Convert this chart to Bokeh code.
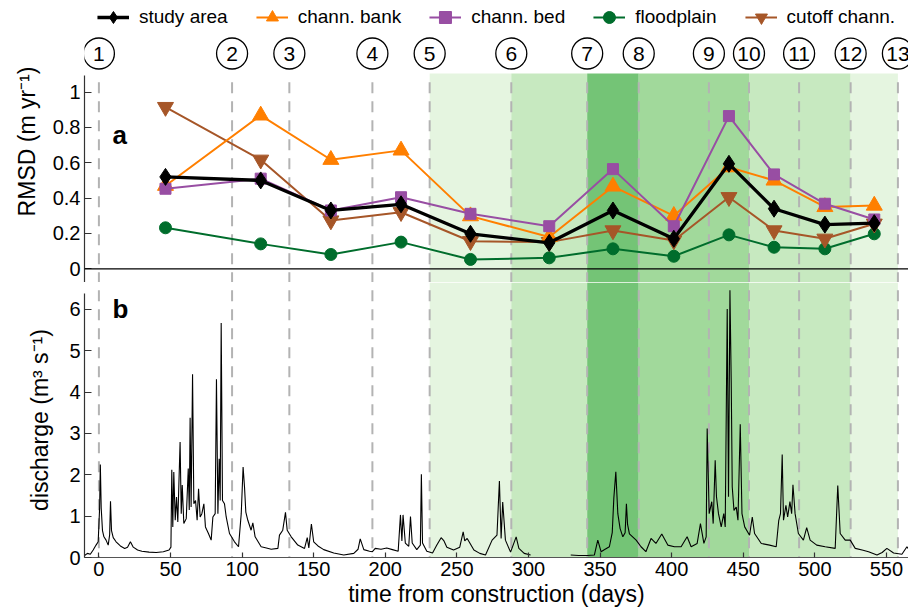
from bokeh.plotting import figure
from bokeh.models import Range1d, FixedTicker, Span, Label, Legend, LegendItem
from bokeh.layouts import column
from bokeh.embed import file_html
from bokeh.resources import INLINE
from bokeh.core.properties import value

FONT = "Liberation Sans"

# ---------------- data ----------------
event_days = [0, 93, 133, 191, 231, 288, 341, 377, 426, 454, 489, 525, 558]
event_labels = ["1", "2", "3", "4", "5", "6", "7", "8", "9", "10", "11", "12", "13"]

interval_mid = [46.5, 113, 162, 211, 259.5, 314.5, 359, 401.5, 440, 471.5, 507, 541.5]
study_area = [0.52, 0.50, 0.33, 0.365, 0.198, 0.147, 0.33, 0.17, 0.594, 0.34, 0.25, 0.258]
chann_bank = [0.47, 0.868, 0.617, 0.67, 0.298, 0.18, 0.466, 0.30, 0.575, 0.50, 0.35, 0.358]
chann_bed = [0.453, 0.51, 0.33, 0.405, 0.311, 0.241, 0.564, 0.241, 0.864, 0.534, 0.368, 0.279]
floodplain = [0.232, 0.141, 0.081, 0.151, 0.053, 0.062, 0.113, 0.071, 0.192, 0.122, 0.113, 0.198]
cutoff_chann = [0.915, 0.617, 0.273, 0.32, 0.156, 0.151, 0.217, 0.16, 0.405, 0.217, 0.17, 0.255]

shade_start = [231, 288, 341, 377, 454, 525]
shade_end = [288, 341, 377, 454, 525, 558]
shade_colors = ["#e5f5e0", "#c7e9c0", "#74c476", "#a1d99b", "#c7e9c0", "#e5f5e0"]

rmsd_ticks = [0, 0.2, 0.4, 0.6, 0.8, 1.0]
q_ticks = [0, 1, 2, 3, 4, 5, 6]
day_ticks = [0, 50, 100, 150, 200, 250, 300, 350, 400, 450, 500, 550]

nan = float("nan")
q_day = [
    -10, -8, -6, -4, -2, -0.5, 0.5, 1.0, 1.6, 2.5, 3.5, 5.0, 6.5, 7.5, 8.1, 8.8,
    10, 12, 15, 18, 20, 22, 24, 27, 30, 35, 40, 45, 49, 50.3, 50.9, 51.6, 52.3,
    53.3, 54.2, 55.1, 56.7, 57.5, 58.2, 59.3, 61.0, 62.4, 63.1, 63.7, 64.4, 65.4,
    66.3, 67.5, 68.6, 69.6, 70.7, 71.9, 73.3, 74.4, 76.5, 78.4, 79.6, 81.2, 82.1,
    83.1, 84.0, 84.7, 85.4, 86.3, 87.7, 88.9, 91.2, 94.7, 97.5, 99.4, 100.7,
    101.7, 102.6, 104.0, 106.3, 107.5, 109.1, 113.3, 117, 120.3, 125, 126.1,
    128.4, 130.3, 131.5, 134.3, 138.9, 143.6, 145.5, 146.6, 148.4, 150, 153, 157,
    164, 171, 178, 181, 182.5, 185, 189, 191, 193, 197, 201, 205, 209, 210.6,
    211.6, 212.4, 214, 216.4, 217.6, 218.8, 222, 224.5, 225.2, 226, 229, 233, 236,
    239, 241, 243, 247.7, 252, 254.4, 255.5, 257.2, 261.9, 266, 270, 274.6, 278,
    279.7, 280.9, 282, 283.9, 287.5, 291.4, 293.3, 297, 301.5, 315,
    329.5, 335, 341, 346, 348.4, 350.7, 353.5, 356.5, 358.5, 359.6, 361.0, 362.4,
    364, 365.9, 367.5, 368.4, 369.2, 370.5, 375.2, 378.6, 382, 385.6, 389, 393.1,
    397.3, 401.9, 406.6, 410.8, 413.6, 417.8, 420.1, 422.5, 424.1, 424.8, 426.2,
    428.0, 429.0, 430.4, 431.3, 432.7, 434.6, 436.4, 437.4, 438.8, 439.7, 440.7,
    441.6, 442.3, 443.5, 445.1, 446.3, 447.9, 449.1, 451.0, 454.4, 456.3, 457.9,
    462.6, 468.4, 473.0, 474.8, 476.0, 477.2, 478.1, 479.8, 481.0, 482.6, 483.8,
    484.7, 486.2, 488.5, 492.0, 494.3, 496.7, 501.3, 507.2, 514.2, 516.0, 517.7,
    521.2, 524.7, 528.2, 533, 537.5, 543.4, 547, 550.3, 555, 560.8, 564.3, 566,
]
q_value = [
    0.05, 0.10, 0.08, 0.18, 0.30, 0.38, 1.2, 2.25, 1.2, 0.65, 0.50, 0.42, 0.30, 0.55, 1.36, 0.65,
    0.48, 0.38, 0.28, 0.22, 0.25, 0.38, 0.25, 0.18, 0.15, 0.13, 0.12, 0.14, 0.18, 0.25, 2.12, 0.74, 2.07,
    0.90, 1.46, 0.86, 2.79, 1.06, 1.75, 0.82, 0.94, 2.15, 1.15, 3.38, 1.22, 4.43,
    1.30, 1.38, 0.90, 1.66, 0.98, 1.06, 1.30, 0.74, 0.58, 0.42, 0.98, 1.06, 4.31,
    1.06, 2.39, 1.38, 5.67, 1.38, 1.30, 0.98, 0.58, 0.38, 0.26, 1.06, 2.19,
    1.70, 1.10, 0.90, 0.66, 0.84, 0.50, 0.26, 0.23, 0.20, 0.22, 0.54,
    0.66, 1.09, 0.66, 0.50, 0.30, 0.22, 0.48, 0.23, 0.81, 0.38, 0.28, 0.19,
    0.11, 0.06, 0.10, 0.20, 0.45, 0.19, 0.15, 0.14, 0.22, 0.20, 0.23, 0.19, 0.15, 1.03,
    0.40, 1.03, 0.35, 0.27, 0.99, 0.35, 0.19, 0.30, 2.01, 0.35, 0.15, 0.11, 0.30,
    0.48, 0.40, 0.25, 0.18, 0.25, 0.62, 0.40, 0.46, 0.18, 0.10, 0.06, 0.42, 0.54,
    1.85, 0.46, 1.34, 0.42, 0.13, 0.50, 0.22, 0.10, 0.06, nan,
    0.06, 0.05, 0.05, 0.06, 0.42, 0.14, 0.20, 0.26, 0.60, 1.43, 2.07, 1.06,
    0.70, 0.50, 0.60, 1.30, 0.80, 0.57, 0.42, 0.26, 0.14, 0.46, 0.34, 0.57,
    0.30, 0.26, 0.26, 0.50, 0.26, 0.34, 0.82, 0.34, 0.50, 3.12, 1.06,
    1.35, 0.82, 2.35, 1.47, 1.06, 0.74, 1.06, 0.74, 6.01, 1.47, 6.46,
    4.24, 1.71, 1.14, 1.22, 0.90, 3.22, 1.06, 0.74, 0.54, 0.98, 0.58,
    0.34, 0.30, 0.26, 0.90, 1.06, 2.49, 0.90, 1.26, 0.98, 1.35, 1.06,
    1.76, 1.06, 0.58, 0.42, 0.72, 0.42, 0.30, 0.26, 0.22, 1.74, 0.58,
    0.42, 0.42, 0.22, 0.18, 0.14, 0.06, 0.12, 0.22, 0.11, 0.08, 0.26, 0.18,
]

# ---------------- layout constants ----------------
X0, X1 = -10.06, 565.4
TOP_Y0, TOP_Y1 = -0.0775, 1.518
BOT_Y0, BOT_Y1 = 0.0, 6.65
DASH_COLOR = "#b3b3b3"
DASH = "11 8"


def style_axis(ax, label_size="23px"):
    ax.axis_label_text_font = FONT
    ax.axis_label_text_font_size = label_size
    ax.axis_label_text_font_style = "normal"
    ax.axis_label_text_color = "black"
    ax.major_label_text_font = FONT
    ax.major_label_text_font_size = "20px"
    ax.major_label_text_color = "black"
    ax.axis_line_color = "#333333"
    ax.axis_line_width = 1.2
    ax.major_tick_line_color = "#333333"
    ax.major_tick_line_width = 1.2
    ax.minor_tick_line_color = None
    ax.major_tick_out = 0


xr = Range1d(X0, X1)

# ---------------- panel a ----------------
top = figure(width=908, height=282, x_range=xr, y_range=Range1d(TOP_Y0, TOP_Y1),
             output_backend="svg", toolbar_location=None, x_axis_location=None,
             min_border_left=84, min_border_right=0, min_border_top=0, min_border_bottom=0,
             outline_line_color=None, background_fill_color="white", border_fill_color="white")
top.grid.visible = False

top.quad(left=shade_start, right=shade_end, bottom=TOP_Y0, top=1.105,
         fill_color=shade_colors, line_color=None)
top.segment(x0=event_days, x1=event_days, y0=1.055, y1=TOP_Y0,
            line_color=DASH_COLOR, line_width=2, line_dash=DASH)
top.add_layout(Span(location=0, dimension="width", line_color="black", line_width=1.3))

series = [
    ("floodplain", floodplain, "#006d2c", "circle", 12, 2),
    ("cutoff chann.", cutoff_chann, "#a65628", "inverted_triangle", 16, 2),
    ("chann. bank", chann_bank, "#ff7f00", "triangle", 16, 2),
    ("chann. bed", chann_bed, "#984ea3", "square", 11, 2),
    ("study area", study_area, "black", "diamond", 17, 3.3),
]
items = {}
for name, vals, col, mk, sz, lw in series:
    r1 = top.line(interval_mid, vals, line_color=col, line_width=lw)
    r2 = top.scatter(interval_mid, vals, marker=mk, size=sz, fill_color=col, line_color=col)
    items[name] = [r1, r2]

legend_order = ["study area", "chann. bank", "chann. bed", "floodplain", "cutoff chann."]
legend = Legend(items=[LegendItem(label=n, renderers=items[n]) for n in legend_order],
                orientation="horizontal", location="top_center",
                glyph_width=32, glyph_height=30, label_standoff=10, spacing=28,
                padding=0, margin=2, background_fill_alpha=0, border_line_color=None,
                label_text_font=FONT, label_text_font_size="19px", label_text_color="black")
top.add_layout(legend)

# event circles
top.scatter(event_days, [1.218] * len(event_days), marker="circle", size=31,
            fill_color="white", line_color="black", line_width=1.3)
top.text(x=event_days, y=[1.218] * len(event_days), text=event_labels,
         text_align="center", text_baseline="middle",
         text_font=value(FONT), text_font_size="21px", text_color="black")

top.add_layout(Label(x=9.5, y=0.757, text="a", text_font=FONT, text_font_size="26px",
                     text_font_style="bold", text_baseline="middle", text_color="black"))

ya = top.yaxis[0]
style_axis(ya)
ya.ticker = FixedTicker(ticks=rmsd_ticks)
ya.major_label_overrides = {0: "0", 1: "1"}
ya.bounds = (TOP_Y0, 1.095)
ya.axis_label = "RMSD (m yr\u207b\u00b9)"
ya.major_tick_in = 7
ya.major_label_standoff = 4
ya.axis_label_standoff = 10

# ---------------- panel b ----------------
bot = figure(width=908, height=332, x_range=xr, y_range=Range1d(BOT_Y0, BOT_Y1),
             output_backend="svg", toolbar_location=None,
             min_border_left=84, min_border_right=0, min_border_top=0, min_border_bottom=57,
             outline_line_color=None, background_fill_color="white", border_fill_color="white")
bot.grid.visible = False

bot.quad(left=shade_start, right=shade_end, bottom=BOT_Y0, top=BOT_Y1,
         fill_color=shade_colors, line_color=None)
bot.segment(x0=event_days, x1=event_days, y0=6.46, y1=BOT_Y0,
            line_color=DASH_COLOR, line_width=2, line_dash=DASH)
bot.line(q_day, q_value, line_color="black", line_width=1.1)

bot.add_layout(Label(x=9.5, y=6.0, text="b", text_font=FONT, text_font_size="26px",
                     text_font_style="bold", text_baseline="middle", text_color="black"))

yb = bot.yaxis[0]
style_axis(yb)
yb.ticker = FixedTicker(ticks=q_ticks)
yb.bounds = (0, 6.38)
yb.axis_label = "discharge (m\u00b3 s\u207b\u00b9)"
yb.major_tick_in = 7
yb.major_label_standoff = 4
yb.axis_label_standoff = 13

xb = bot.xaxis[0]
style_axis(xb)
xb.ticker = FixedTicker(ticks=day_ticks)
xb.axis_label = "time from construction (days)"
xb.major_tick_in = 5
xb.major_label_standoff = 4
xb.axis_label_standoff = 2
xb.axis_line_color = "#555555"

layout = column(top, bot, spacing=0)

open("out.html", "w").write(file_html(layout, INLINE))
